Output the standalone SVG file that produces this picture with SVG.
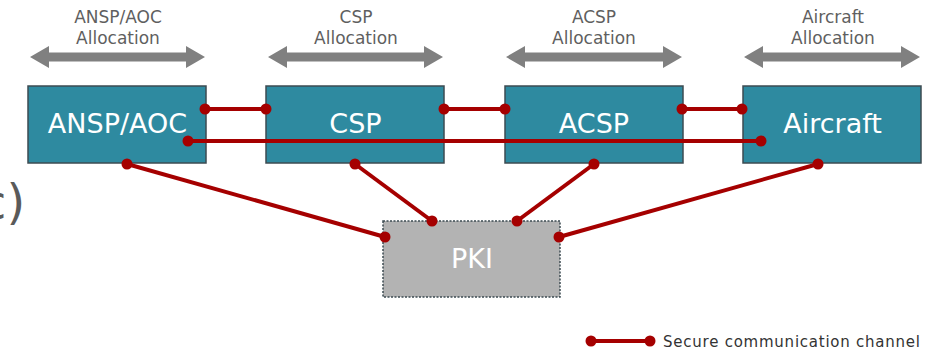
<svg xmlns="http://www.w3.org/2000/svg" width="940" height="351" viewBox="0 0 940 351">
  <style>
    .lbl { font-family: "DejaVu Sans", Verdana, sans-serif; font-size: 17px; fill: #5f5f5f; text-anchor: middle; }
    .node rect { fill: #2e8aa0; stroke: #3c4b52; stroke-width: 1.5; }
    .node text { font-family: "DejaVu Sans", Verdana, sans-serif; font-size: 27px; fill: #ffffff; text-anchor: middle; }
    .alloc { fill: #808080; }
    .ch { stroke: #a50000; stroke-width: 4; fill: none; }
    .dot { fill: #a50000; }
  </style>
  <defs>
    <circle id="d" r="5.5" class="dot"/>
  </defs>
  <rect width="940" height="351" fill="#ffffff"/>

  <!-- partially visible caption on the left edge -->
  <text x="-20" y="219" font-family="DejaVu Sans, Verdana, sans-serif" font-size="48" fill="#5a5a5a">c)</text>

  <!-- allocation ranges -->
  <g id="allocations">
    <text class="lbl" x="118" y="23">ANSP/AOC</text>
    <text class="lbl" x="118" y="44">Allocation</text>
    <polygon class="alloc" points="30,57 49,46 49,52.5 186,52.5 186,46 205,57 186,68 186,61.5 49,61.5 49,68"/>

    <text class="lbl" x="356" y="23">CSP</text>
    <text class="lbl" x="356" y="44">Allocation</text>
    <polygon class="alloc" points="268,57 287,46 287,52.5 424,52.5 424,46 443,57 424,68 424,61.5 287,61.5 287,68"/>

    <text class="lbl" x="594" y="23">ACSP</text>
    <text class="lbl" x="594" y="44">Allocation</text>
    <polygon class="alloc" points="506,57 525,46 525,52.5 663,52.5 663,46 682,57 663,68 663,61.5 525,61.5 525,68"/>

    <text class="lbl" x="833" y="23">Aircraft</text>
    <text class="lbl" x="833" y="44">Allocation</text>
    <polygon class="alloc" points="744,57 763,46 763,52.5 901,52.5 901,46 920,57 901,68 901,61.5 763,61.5 763,68"/>
  </g>

  <!-- entities -->
  <g id="ansp" class="node">
    <rect x="28" y="86" width="178" height="77"/>
    <text x="117.5" y="133">ANSP/AOC</text>
  </g>
  <g id="csp" class="node">
    <rect x="266" y="86" width="178" height="77"/>
    <text x="355.5" y="133">CSP</text>
  </g>
  <g id="acsp" class="node">
    <rect x="505" y="86" width="178" height="77"/>
    <text x="594" y="133">ACSP</text>
  </g>
  <g id="aircraft" class="node">
    <rect x="743" y="86" width="178" height="77"/>
    <text x="832.5" y="133">Aircraft</text>
  </g>
  <g id="pki">
    <rect x="383" y="221" width="177" height="76" fill="#b3b3b3" stroke="#3c4b52" stroke-width="1.5" stroke-dasharray="2 1.5"/>
    <text x="472" y="268" font-family="DejaVu Sans, Verdana, sans-serif" font-size="27" fill="#ffffff" text-anchor="middle">PKI</text>
  </g>

  <!-- secure communication channels -->
  <g id="channels">
    <line class="ch" x1="205" y1="109" x2="266" y2="109"/>
    <line class="ch" x1="444" y1="109" x2="505" y2="109"/>
    <line class="ch" x1="682" y1="109" x2="742" y2="109"/>
    <line class="ch" x1="188" y1="141" x2="761" y2="141"/>
    <line class="ch" x1="127" y1="164" x2="385" y2="237"/>
    <line class="ch" x1="355" y1="164" x2="432" y2="221"/>
    <line class="ch" x1="594" y1="164" x2="517" y2="221"/>
    <line class="ch" x1="818" y1="164" x2="559" y2="237"/>
    <use href="#d" x="205" y="109"/><use href="#d" x="266" y="109"/>
    <use href="#d" x="444" y="109"/><use href="#d" x="505" y="109"/>
    <use href="#d" x="682" y="109"/><use href="#d" x="742" y="109"/>
    <use href="#d" x="188" y="141"/><use href="#d" x="761" y="141"/>
    <use href="#d" x="127" y="164"/><use href="#d" x="385" y="237"/>
    <use href="#d" x="355" y="164"/><use href="#d" x="432" y="221"/>
    <use href="#d" x="594" y="164"/><use href="#d" x="517" y="221"/>
    <use href="#d" x="818" y="164"/><use href="#d" x="559" y="237"/>
  </g>

  <!-- legend -->
  <g id="legend">
    <line class="ch" x1="591" y1="341" x2="650" y2="341"/>
    <use href="#d" x="591" y="341"/><use href="#d" x="650" y="341"/>
    <text x="663" y="347" font-family="DejaVu Sans, Verdana, sans-serif" font-size="15" textLength="257" lengthAdjust="spacing" fill="#333333">Secure communication channel</text>
  </g>
</svg>
